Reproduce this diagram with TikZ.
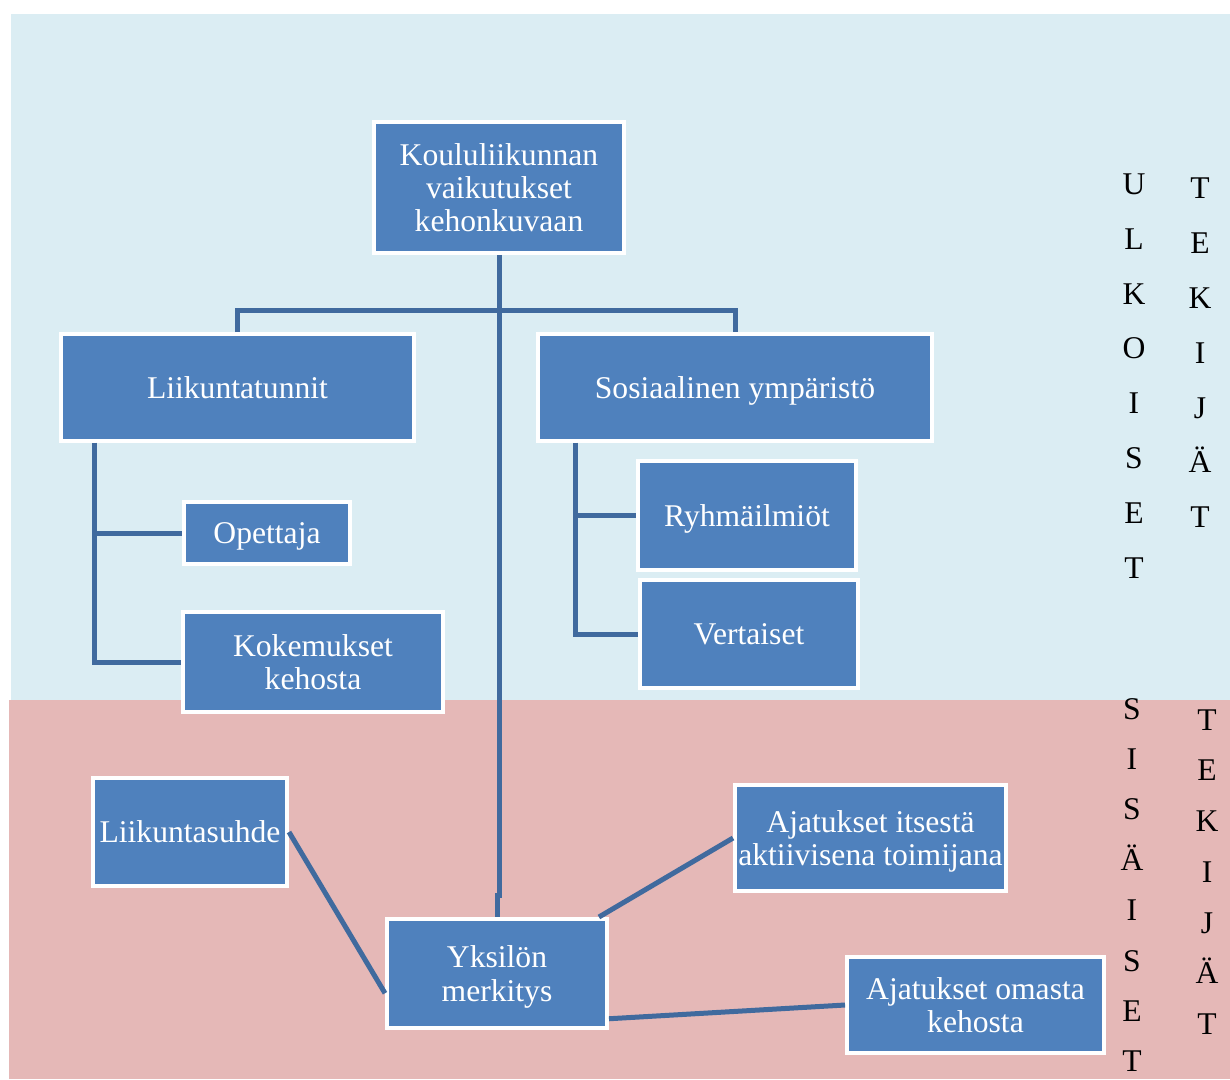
\documentclass[tikz,border=0pt]{standalone}
\usepackage{fontspec}
\setmainfont{Liberation Serif}
\usetikzlibrary{calc, positioning}
\definecolor{laatikko}{RGB}{79,129,189}
\definecolor{viiva}{RGB}{64,106,158}
\definecolor{ulkotausta}{RGB}{219,237,243}
\definecolor{sisatausta}{RGB}{229,184,183}

\begin{document}
\begin{tikzpicture}[x=0.02cm, y=-0.02cm,
  box/.style={draw=white, line width=0.08cm, fill=laatikko, text=white, align=center, inner sep=1pt, font=\fontsize{18}{18.8}\selectfont},
  yksi/.style={text height=12.4pt, text depth=0pt},
  conn/.style={draw=viiva, line width=0.1cm},
  vlab/.style={align=center, inner sep=0pt, text=black},
  node distance=0.5cm]
  \useasboundingbox (0,0) rectangle (1230,1079);
  % taustat: ulkoiset ja sisäiset tekijät
  \fill[ulkotausta] (11,14) rectangle (1230,700);
  \fill[sisatausta] (9,700) rectangle (1230,1079);

  \node[box, minimum width=5cm, minimum height=2.62cm] (koulu) at (499,187.5) {Koululiikunnan\\vaikutukset\\kehonkuvaan};
  \node[box, yksi, minimum width=7.06cm, minimum height=2.14cm] (liikunta) at (237.5,387.5) {Liikuntatunnit};
  \node[box, yksi, minimum width=7.88cm, minimum height=2.14cm] (sosiaal) at (735,387.5) {Sosiaalinen ympäristö};
  \node[box, yksi, minimum width=3.32cm, minimum height=1.24cm] (opettaja) at (267,533) {Opettaja};
  \node[box, minimum width=5.2cm, minimum height=2cm] (kokemus) at (313,662) {Kokemukset\\kehosta};
  \node[box, yksi, minimum width=4.36cm, minimum height=2.18cm] (ryhma) at (747,515.5) {Ryhmäilmiöt};
  \node[box, yksi, minimum width=4.36cm, minimum height=2.16cm] (vertaiset) at (749,634) {Vertaiset};
  \node[box, yksi, minimum width=3.88cm, minimum height=2.16cm] (suhde) at (190,832) {Liikuntasuhde};
  \node[box, text depth=0pt, minimum width=4.4cm, minimum height=2.18cm] (yksilo) at (497,973.5) {Yksilön\\merkitys};
  \node[box, text depth=0pt, minimum width=5.42cm, minimum height=2.12cm] (itsesta) at (870.5,838) {Ajatukset itsestä\\aktiivisena toimijana};
  \node[box, minimum width=5.14cm, minimum height=1.92cm] (kehosta) at (975.5,1005) {Ajatukset omasta\\kehosta};

  \node[vlab, font=\fontsize{18}{31.2}\selectfont] (ulko) at (1134,376) {U\\L\\K\\O\\I\\S\\E\\T};
  \node[vlab, font=\fontsize{18}{31.2}\selectfont] (tekijat1) at (1200,353) {T\\E\\K\\I\\J\\Ä\\T};
  \node[vlab, font=\fontsize{18}{28.7}\selectfont] (sisa) at (1132,885) {S\\I\\S\\Ä\\I\\S\\E\\T};
  \node[vlab, font=\fontsize{18}{28.9}\selectfont] (tekijat2) at (1207,872) {T\\E\\K\\I\\J\\Ä\\T};

  % puu ylälaatikosta alaspäin
  \coordinate (haara) at (499,310);
  \draw[conn] (liikunta.north) |- (haara) -| (sosiaal.north);
  \draw[conn] (koulu.south) -- (haara) -- ++(0,585) -| (yksilo.north);
  \coordinate (lt) at ($(liikunta.south west)+(35,0)$);
  \draw[conn] (lt) |- (opettaja.west);
  \draw[conn] (lt) |- (kokemus.west);
  \coordinate (st) at ($(sosiaal.south west)+(39,0)$);
  \draw[conn] (st) |- (ryhma.west);
  \draw[conn] (st) |- (vertaiset.west);
  % sisäiset tekijät yksilön ympärillä
  \draw[conn] (suhde.east) -- (yksilo.190);
  \draw[conn] (yksilo.29) -- (itsesta.west);
  \draw[conn] (yksilo.-22) -- (kehosta.west);
\end{tikzpicture}
\end{document}
